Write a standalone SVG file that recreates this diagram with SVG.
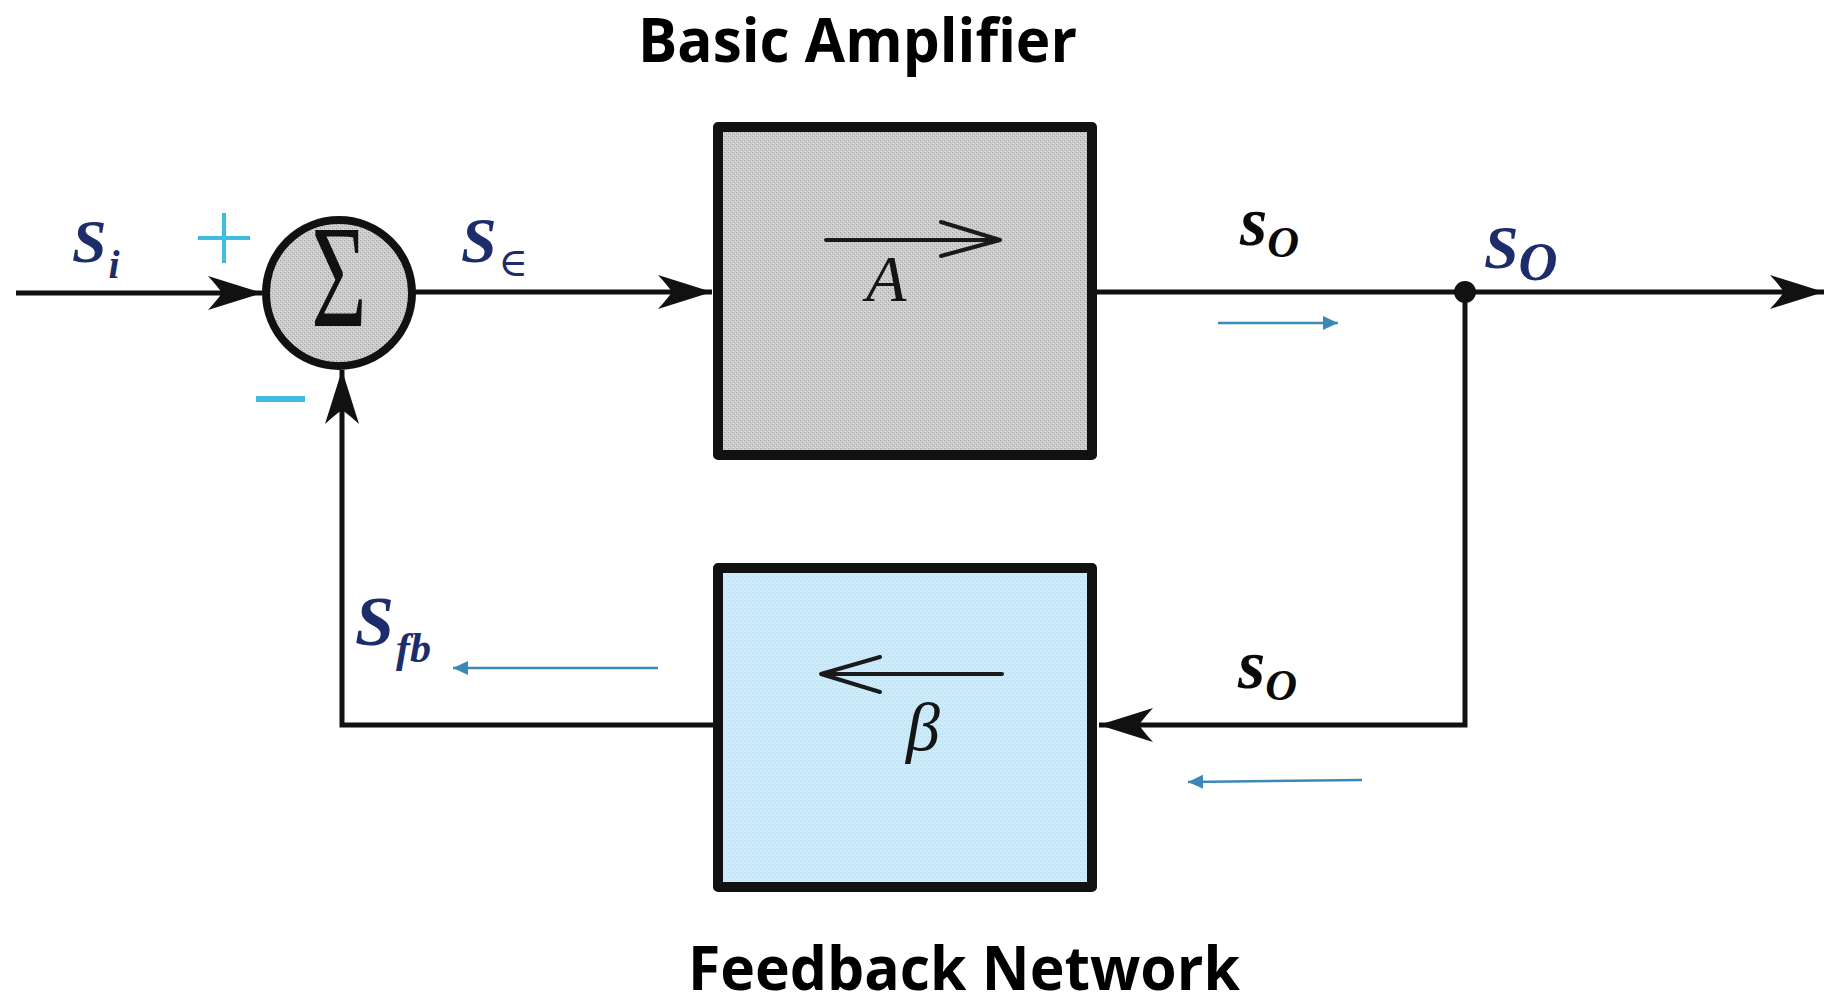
<svg xmlns="http://www.w3.org/2000/svg" width="1826" height="1004" viewBox="0 0 1826 1004">
  <style>
    .wire { fill: none; stroke: #111; stroke-width: 5; stroke-linejoin: miter; }
    .box { stroke: #111; stroke-width: 10; stroke-linejoin: round; }
    .inner { fill: none; stroke: #1a1a1a; stroke-width: 4; stroke-linecap: round; stroke-linejoin: round; }
    .flow { fill: none; stroke: #3b88b6; stroke-width: 2.6; }
    .sig { font-family: "Liberation Serif", "DejaVu Serif", serif; font-weight: bold; font-style: italic; fill: #1d2d6b; }
    .sigk { font-family: "Liberation Serif", "DejaVu Serif", serif; font-weight: bold; font-style: italic; fill: #0a0a0a; }
    .gain { font-family: "Liberation Serif", "DejaVu Serif", serif; font-style: italic; fill: #151515; }
    .title { font-family: "Open Sans", "DejaVu Sans", sans-serif; font-weight: bold; fill: #000; }
    .sign { stroke: #3fbde0; fill: none; }
  </style>
  <defs>
    <!-- halftone-like fills for the blocks -->
    <pattern id="grayDots" width="4" height="4" patternUnits="userSpaceOnUse">
      <rect width="4" height="4" fill="#cbcbcb"/>
      <rect x="0" y="0" width="1" height="1" fill="#9e9e9e"/>
      <rect x="2" y="2" width="1" height="1" fill="#a6a6a6"/>
      <rect x="1" y="3" width="1" height="1" fill="#e4e4e4"/>
      <rect x="3" y="1" width="1" height="1" fill="#e0e0e0"/>
    </pattern>
    <pattern id="blueDots" width="4" height="4" patternUnits="userSpaceOnUse">
      <rect width="4" height="4" fill="#cfeaf7"/>
      <rect x="0" y="0" width="1" height="1" fill="#b4d9ec"/>
      <rect x="2" y="2" width="1" height="1" fill="#b8dcee"/>
      <rect x="1" y="3" width="1" height="1" fill="#e3f3fb"/>
    </pattern>
    <!-- barbed black arrowhead, tip at the line end -->
    <marker id="head" markerUnits="userSpaceOnUse" viewBox="-56 -18 58 36" refX="0" refY="0" markerWidth="58" markerHeight="36" orient="auto">
      <path d="M0,0 L-54,-17 Q-44,-6 -40,0 Q-44,6 -54,17 Z" fill="#111"/>
    </marker>
    <!-- small blue flow arrowhead -->
    <marker id="flowHead" markerUnits="userSpaceOnUse" viewBox="-16 -8 17 16" refX="0" refY="0" markerWidth="17" markerHeight="16" orient="auto">
      <path d="M0,0 L-15,-7 L-15,7 Z" fill="#3b88b6"/>
    </marker>
  </defs>

  <!-- connectors -->
  <g id="connectors">
    <line class="wire" x1="16" y1="293" x2="262" y2="293" marker-end="url(#head)"/>
    <line class="wire" x1="414" y1="292" x2="712" y2="292" marker-end="url(#head)"/>
    <line class="wire" x1="1097" y1="292" x2="1824" y2="292" marker-end="url(#head)"/>
    <polyline class="wire" points="1465,292 1465,725 1099,725" marker-end="url(#head)"/>
    <polyline class="wire" points="713,725 342,725 342,370" marker-end="url(#head)"/>
    <circle cx="1465" cy="292" r="11" fill="#111"/>
    <!-- signal direction hints -->
    <line class="flow" x1="1218" y1="323" x2="1338" y2="323" marker-end="url(#flowHead)"/>
    <line class="flow" x1="1362" y1="780" x2="1188" y2="782" marker-end="url(#flowHead)"/>
    <line class="flow" x1="658" y1="668" x2="453" y2="668" marker-end="url(#flowHead)"/>
  </g>

  <!-- summing junction -->
  <g id="sum">
    <circle cx="339" cy="293" r="73" fill="url(#grayDots)" stroke="#111" stroke-width="8"/>
    <text transform="translate(339 326) scale(0.85 1.3)" text-anchor="middle" font-family="Liberation Serif, DejaVu Serif, serif" font-size="112" fill="#111">Σ</text>
    <path class="sign" stroke-width="4" d="M198,238 H250 M224,213 V263"/>
    <path class="sign" stroke-width="6" d="M256,399 H305"/>
  </g>

  <!-- basic amplifier block -->
  <g id="amplifier">
    <rect class="box" x="718" y="127" width="374" height="328" fill="url(#grayDots)"/>
    <path class="inner" d="M826,240 H1000 M941,222 L1000,240 L941,256"/>
    <text class="gain" x="866" y="301" font-size="66">A</text>
  </g>

  <!-- feedback network block -->
  <g id="feedback">
    <rect class="box" x="718" y="568" width="374" height="319" fill="url(#blueDots)"/>
    <path class="inner" stroke-width="5" d="M1002,674 H822 M880,657 L821,674 L880,692"/>
    <text class="gain" x="906" y="750" font-size="68">β</text>
  </g>

  <!-- signal labels -->
  <g id="labels">
    <text class="sig" x="72" y="262" font-size="62">S<tspan font-size="40" dy="16" dx="2">i</tspan></text>
    <text class="sig" x="461" y="262" font-size="64">S<tspan font-family="DejaVu Serif, serif" font-style="normal" font-weight="normal" font-size="40" dy="14" dx="2">∈</tspan></text>
    <text class="sigk" x="1240" y="245" font-size="70">s<tspan font-size="44" dy="12" dx="0">O</tspan></text>
    <text class="sigk" x="1238" y="688" font-size="70">s<tspan font-size="44" dy="12" dx="0">O</tspan></text>
    <text class="sig" x="1484" y="268" font-size="62" fill="#1a3585">S<tspan font-size="54" dy="12">O</tspan></text>
    <text class="sig" x="355" y="645" font-size="70">S<tspan font-size="42" dy="17" dx="2">fb</tspan></text>
  </g>

  <!-- captions -->
  <g id="captions">
    <text class="title" x="638" y="62" font-size="60" textLength="439" lengthAdjust="spacingAndGlyphs">Basic Amplifier</text>
    <text class="title" x="688" y="990" font-size="60" textLength="552" lengthAdjust="spacingAndGlyphs" font-family="DejaVu Sans, sans-serif">Feedback Network</text>
  </g>
</svg>
